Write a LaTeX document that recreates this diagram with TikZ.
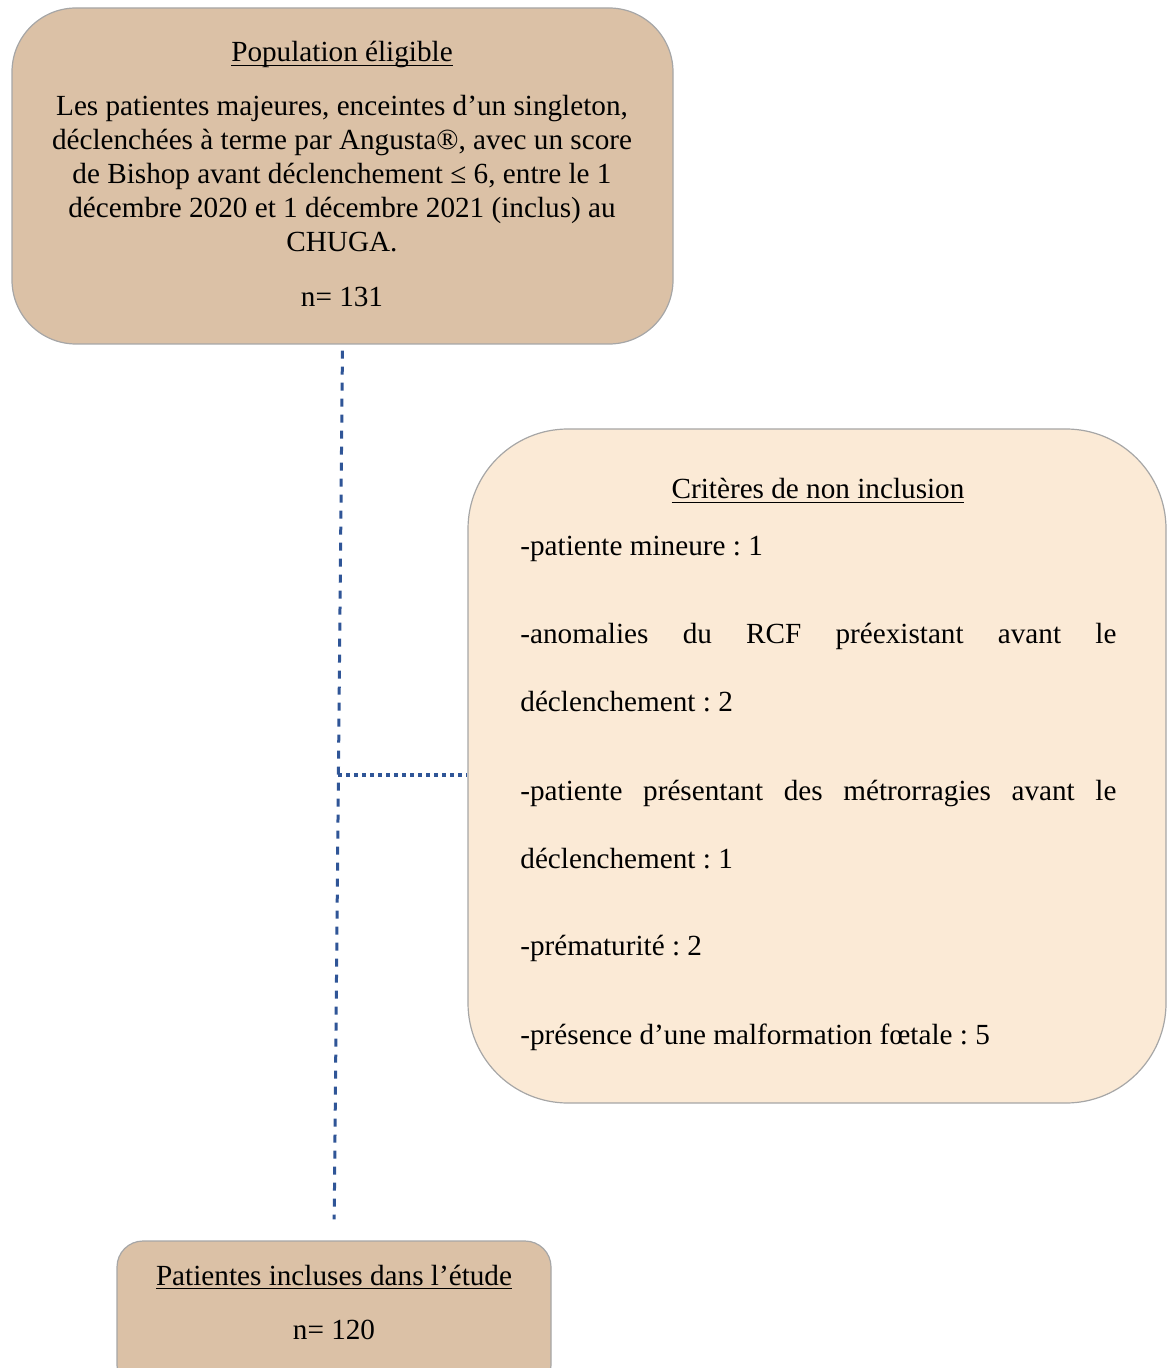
\documentclass[tikz,border=0pt]{standalone}
\usepackage{fontspec}
\setmainfont{Liberation Serif}
\usetikzlibrary{calc}
\definecolor{Tan}{RGB}{219, 193, 166}
\definecolor{Cream}{RGB}{251, 234, 214}
\definecolor{LineBlue}{RGB}{47, 85, 151}
\definecolor{EdgeGray}{RGB}{166, 166, 166}
\newcommand{\ulined}[1]{\setbox0\hbox{#1}\rlap{\rule[-2pt]{\wd0}{0.6pt}}\box0}
\frenchspacing

\begin{document}
\begin{tikzpicture}[x=0.5pt, y=-0.5pt, every node/.style={font=\fontsize{14.6}{17}\selectfont, inner sep=0pt},
    boxtan/.style={draw=EdgeGray, line width=0.6pt, fill=Tan},
    boxcream/.style={draw=EdgeGray, line width=0.6pt, fill=Cream},
    critline/.style={anchor=base west, text width=298pt, align=justify, font=\fontsize{14.6}{34}\selectfont},
    dashline/.style={LineBlue, line width=1.5pt, dash pattern=on 4pt off 4pt},
    dotline/.style={LineBlue, line width=2pt, dash pattern=on 2pt off 2pt}]
    \useasboundingbox (0,0) rectangle (1167,1368);
    \clip (0,0) rectangle (1167,1368);
    % boxes
    \node[boxtan, rounded corners=32pt, minimum width=330.5pt, minimum height=168pt] (elig) at (342.5,176) {};
    \node[boxcream, rounded corners=50pt, minimum width=349pt, minimum height=337pt] (crit) at (817,766) {};
    \node[boxtan, rounded corners=13pt, minimum width=217pt, minimum height=75pt] (incl) at (334,1316) {};
    % eligible population
    \node[anchor=base] (eligT) at (342,62) {\ulined{Population éligible}};
    \node[anchor=base, align=center] (eligD) at (342,252) {Les patientes majeures, enceintes d’un singleton,\\
        déclenchées à terme par Angusta®, avec un score\\
        de Bishop avant déclenchement ≤ 6, entre le 1\\
        décembre 2020 et 1 décembre 2021 (inclus) au\\
        CHUGA.};
    \node[anchor=base] (eligN) at (342,307) {n= 131};
    % exclusion criteria
    \node[anchor=base] (critT) at (818,499) {\ulined{Critères de non inclusion}};
    \node[critline] (c1) at (520,555) {-patiente mineure : 1};
    \node[critline] (c2) at (520,643) {-anomalies du RCF préexistant avant le\linebreak déclenchement : 2};
    \node[critline] (c3) at (520,800) {-patiente présentant des métrorragies avant le\linebreak déclenchement : 1};
    \node[critline] (c4) at (520,955) {-prématurité : 2};
    \node[critline] (c5) at (520,1044) {-présence d’une malformation fœtale : 5};
    % included patients
    \node[anchor=base] (inclT) at (334,1285) {\ulined{Patientes incluses dans l’étude}};
    \node[anchor=base] (inclN) at (334,1339) {n= 120};
    % connectors
    \draw[dashline, shorten <=3pt, shorten >=10.5pt] (elig.south) -- (incl.north);
    \coordinate (junc) at ($(elig.south)!0.48!(incl.north)$);
    \draw[dotline] (junc) -- (junc -| crit.west);
\end{tikzpicture}
\end{document}
